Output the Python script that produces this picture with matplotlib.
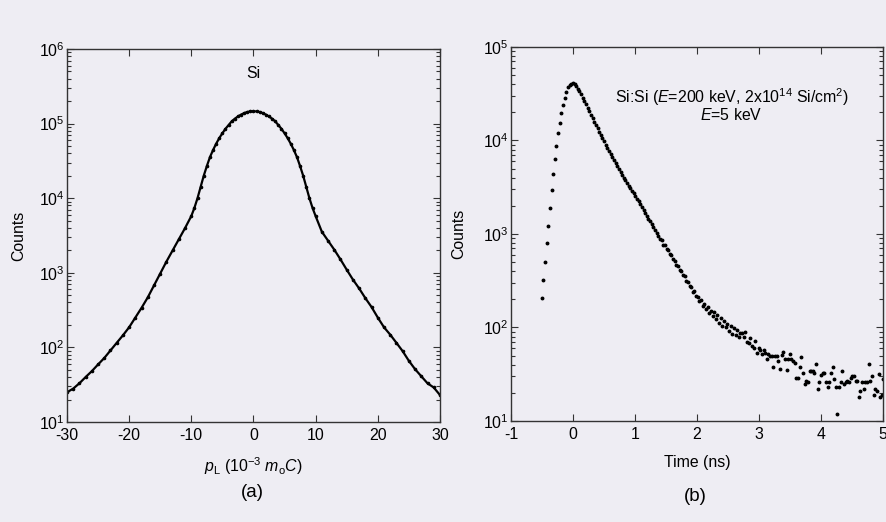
import numpy as np
import matplotlib
matplotlib.use('Agg')
import matplotlib.pyplot as plt
from matplotlib.ticker import LogLocator, FixedLocator

plt.rcParams['font.family'] = ['Liberation Sans', 'DejaVu Sans']
plt.rcParams['mathtext.fontset'] = 'custom'
plt.rcParams['mathtext.rm'] = 'Liberation Sans'
plt.rcParams['mathtext.it'] = 'Liberation Sans:italic'
plt.rcParams['axes.unicode_minus'] = False

# (a) Doppler broadening spectrum of Si
p_L = [-30, -29, -28, -27, -26, -25, -24, -23, -22, -21, -20, -19, -18, -17, -16,
       -15, -14, -13, -12, -11, -10, -9.5, -9, -8.5, -8, -7.5, -7, -6.5, -6, -5.5,
       -5, -4.5, -4, -3.5, -3, -2.5, -2, -1.5, -1, -0.5, 0, 0.5, 1, 1.5, 2, 2.5,
       3, 3.5, 4, 4.5, 5, 5.5, 6, 6.5, 7, 7.5, 8, 8.5, 9, 9.5, 10, 11, 12, 13, 14,
       15, 16, 17, 18, 19, 20, 21, 22, 23, 24, 25, 26, 27, 28, 29, 30]
counts_a = [25, 28, 33, 40, 48, 59, 72, 91, 115, 145, 186, 251, 339, 468, 676,
            977, 1413, 1995, 2818, 3981, 5754, 7413, 10000, 14125, 19953, 26915,
            35481, 44157, 53703, 63826, 74131, 85114, 95499, 107152, 116145,
            124451, 131826, 138038, 142889, 145546, 146218, 145546, 142889,
            138038, 131826, 124451, 116145, 107152, 95499, 85114, 74131, 63826,
            53703, 44157, 35481, 26915, 19953, 14125, 10000, 7413, 5750, 3550,
            2690, 2040, 1510, 1100, 810, 617, 457, 347, 251, 186, 148, 115, 89,
            66, 51, 41, 33, 29, 23]

# (b) positron lifetime spectrum, channel width in ns
t_start = -0.505
t_channel = 0.0265
counts_b = [205, 320, 500, 800, 1230, 1900, 2950, 4400, 6300, 8700, 12000, 15500,
            19500, 24000, 28800, 33000, 36900, 39400, 40500, 40700,
            39800, 38000, 35900, 33650, 31100, 28700, 26500, 24400, 22400, 20600,
            18900, 17300, 15950, 14600, 13450, 12400, 11500, 10600, 9800, 9040,
            8360, 7710, 7140, 6640, 6180, 5730, 5340, 4950, 4610, 4280,
            4000, 3740, 3500, 3270, 3080, 2900, 2730, 2560, 2390, 2240,
            2090, 1950, 1810, 1680, 1570, 1460, 1370, 1280, 1200, 1110,
            1030, 960, 880, 860, 770, 760, 690, 670, 610, 600,
            540, 520, 470, 450, 410, 400, 360, 355, 315, 310,
            280, 270, 240, 245, 215, 210, 190, 195, 170, 180,
            158, 166, 142, 150, 132, 145, 122, 135, 112, 126,
            105, 118, 100, 110, 92, 104, 86, 98, 84, 93, 80, 88,
            87, 80, 89, 70, 68, 77, 64, 60, 71, 54, 61, 58, 52, 58, 53, 46, 52, 49,
            50, 38, 50, 50, 44, 36, 51, 55, 46, 35, 46, 52, 46, 44, 42, 29, 29, 38,
            48, 33, 25, 27, 26, 34, 34, 34, 33, 41, 22, 26, 31, 33, 33, 26, 23, 26,
            33, 38, 28, 23, 12, 23, 26, 34, 25, 26, 27, 26, 29, 30, 30, 27, 27, 18,
            21, 26, 22, 26, 26, 41, 27, 30, 19, 22, 21, 32, 18, 19, 28, 26]
time_b = t_start + t_channel * np.arange(len(counts_b))

bg = '#EEEDF3'
spine = '#333333'
fs = 11.4

fig = plt.figure(figsize=(8.87, 5.22), dpi=100, facecolor=bg)
ax1 = fig.add_axes([0.0755, 0.1916, 0.4205, 0.7146])
ax2 = fig.add_axes([0.5761, 0.1935, 0.4194, 0.7165])


def style(ax):
    ax.set_facecolor(bg)
    ax.set_yscale('log')
    for s in ax.spines.values():
        s.set_color(spine)
        s.set_linewidth(1.0)
    ax.yaxis.set_major_locator(LogLocator(base=10, numticks=10))
    ax.yaxis.set_minor_locator(LogLocator(base=10, subs=np.arange(2, 10), numticks=10))
    ax.tick_params(which='both', direction='in', top=True, right=True,
                   colors=spine, labelcolor='black', labelsize=fs, width=0.8)
    ax.tick_params(which='major', length=5)
    ax.tick_params(axis='y', which='major', pad=2)
    ax.tick_params(axis='x', which='major', pad=4)
    ax.tick_params(which='minor', length=3)


style(ax1)
ax1.plot(p_L, counts_a, color='black', lw=1.6, marker='o', ms=1.6)
ax1.set_xlim(-30, 30)
ax1.set_ylim(10, 1e6)
ax1.xaxis.set_major_locator(FixedLocator([-30, -20, -10, 0, 10, 20, 30]))
ax1.set_ylabel('Counts', fontsize=fs)
ax1.yaxis.set_label_coords(-0.108, 0.5)
ax1.set_xlabel(r'$p_\mathrm{L}$ (10$^{-3}$ $m_\mathrm{o}C$)', fontsize=fs)
ax1.xaxis.set_label_coords(0.5, -0.088)
ax1.text(0.5, 0.935, 'Si', transform=ax1.transAxes, ha='center', va='center',
         fontsize=fs)

style(ax2)
ax2.plot(time_b, counts_b, ls='none', marker='o', ms=1.8, color='black')
ax2.set_xlim(-1, 5)
ax2.set_ylim(10, 1e5)
ax2.xaxis.set_major_locator(FixedLocator([-1, 0, 1, 2, 3, 4, 5]))
ax2.set_ylabel('Counts', fontsize=fs)
ax2.yaxis.set_label_coords(-0.12, 0.5)
ax2.set_xlabel('Time (ns)', fontsize=fs)
ax2.xaxis.set_label_coords(0.5, -0.092)
ax2.text(0.593, 0.867, r'Si:Si ($E$=200 keV, 2x10$^{14}$ Si/cm$^2$)',
         transform=ax2.transAxes, ha='center', va='center', fontsize=fs)
ax2.text(0.593, 0.818, r'$E$=5 keV', transform=ax2.transAxes, ha='center',
         va='center', fontsize=fs)

fig.text(0.285, 0.056, '(a)', ha='center', va='center', fontsize=13.5)
fig.text(0.784, 0.049, '(b)', ha='center', va='center', fontsize=13.5)

fig.savefig('out.png', dpi=100, facecolor=bg)
